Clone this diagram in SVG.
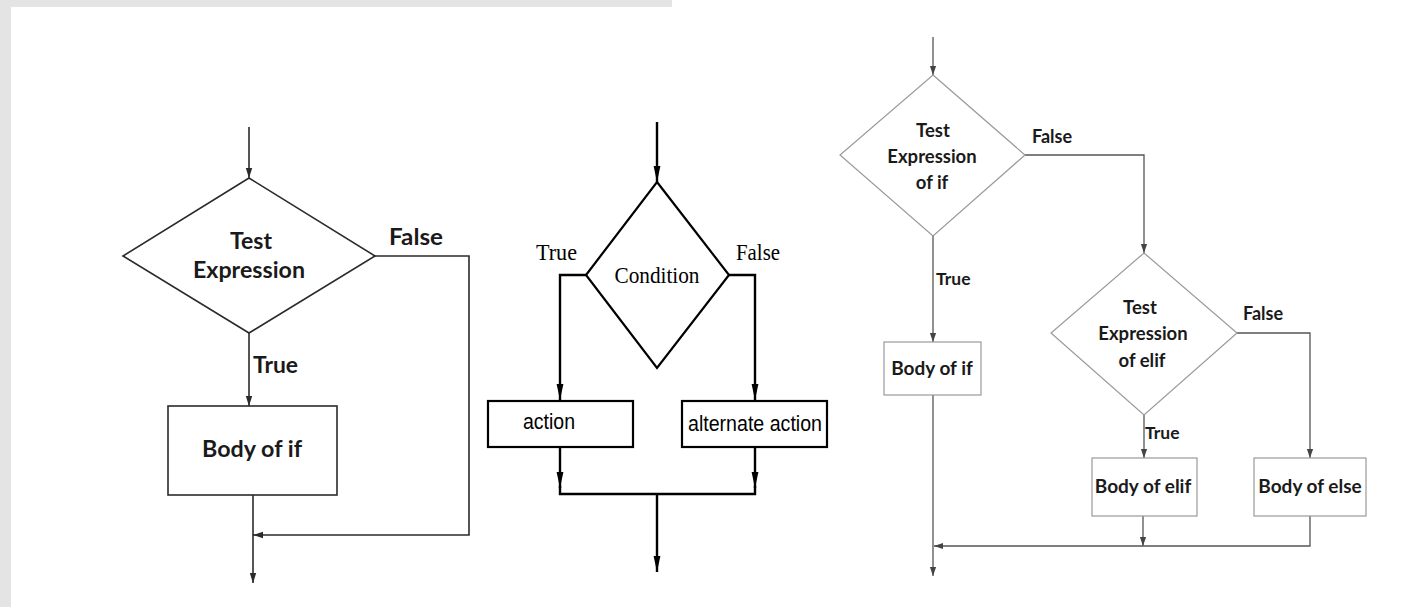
<svg xmlns="http://www.w3.org/2000/svg" width="1403" height="607" viewBox="0 0 1403 607">
  <style>
    .sans { font-family: Lato, "Liberation Sans", sans-serif; font-weight: 700; fill: #1a1a1a; }
    .serif { font-family: "Liberation Serif", serif; fill: #000; }
    .narrow { font-family: "Liberation Sans", sans-serif; fill: #000; }
    .ln-a { fill: none; stroke: #2b2b2b; stroke-width: 1.6; }
    .ln-b { fill: none; stroke: #000; stroke-width: 2.4; }
    .ln-c { fill: none; stroke: #555; stroke-width: 1.3; }
    .shape-a { fill: #fff; stroke: #2b2b2b; stroke-width: 1.6; }
    .shape-b { fill: #fff; stroke: #000; stroke-width: 2.2; }
    .shape-c { fill: #fff; stroke: #9a9a9a; stroke-width: 1.2; }
  </style>
  <defs>
    <marker id="arrA" markerUnits="userSpaceOnUse" markerWidth="10" markerHeight="10" viewBox="0 0 10 10" refX="10" refY="5" orient="auto">
      <path d="M0,1.8 L10,5 L0,8.2 Z" fill="#2b2b2b"/>
    </marker>
    <marker id="arrB" markerUnits="userSpaceOnUse" markerWidth="16" markerHeight="10" viewBox="0 0 16 10" refX="16" refY="5" orient="auto">
      <path d="M0,1.6 L16,5 L0,8.4 Z" fill="#000"/>
    </marker>
    <marker id="arrC" markerUnits="userSpaceOnUse" markerWidth="9" markerHeight="9" viewBox="0 0 9 9" refX="9" refY="4.5" orient="auto">
      <path d="M0,1.4 L9,4.5 L0,7.6 Z" fill="#444"/>
    </marker>
  </defs>

  <!-- page background with the grey frame strips -->
  <rect x="0" y="0" width="1403" height="607" fill="#fff"/>
  <rect x="0" y="0" width="672" height="7" fill="#e4e4e4"/>
  <rect x="0" y="0" width="11" height="607" fill="#e4e4e4"/>

  <!-- ===== simple if ===== -->
  <g id="if-connectors">
    <path class="ln-a" d="M249,127 V178" marker-end="url(#arrA)"/>
    <path class="ln-a" d="M249,333 V406" marker-end="url(#arrA)"/>
    <path class="ln-a" d="M375,256 H469 V535 H253" marker-end="url(#arrA)"/>
    <path class="ln-a" d="M253,495 V583" marker-end="url(#arrA)"/>
    <text class="sans" x="389" y="245" font-size="23" textLength="54" lengthAdjust="spacingAndGlyphs">False</text>
    <text class="sans" x="253" y="373" font-size="23" textLength="45" lengthAdjust="spacingAndGlyphs">True</text>
  </g>
  <g id="if-test">
    <polygon class="shape-a" points="249,178 375,256 249,333 123,256"/>
    <text class="sans" x="251" y="249" font-size="23" text-anchor="middle">Test</text>
    <text class="sans" x="249" y="278" font-size="23" text-anchor="middle" textLength="112" lengthAdjust="spacingAndGlyphs">Expression</text>
  </g>
  <g id="if-body">
    <rect class="shape-a" x="168" y="406" width="169" height="89"/>
    <text class="sans" x="252" y="457" font-size="23" text-anchor="middle" textLength="100" lengthAdjust="spacingAndGlyphs">Body of if</text>
  </g>

  <!-- ===== if / else ===== -->
  <g id="ifelse-connectors">
    <path class="ln-b" d="M657,122 V182" marker-end="url(#arrB)"/>
    <path class="ln-b" d="M586,275 H560 V400" marker-end="url(#arrB)"/>
    <path class="ln-b" d="M729,275 H755 V400" marker-end="url(#arrB)"/>
    <path class="ln-b" d="M560,447 V488" marker-end="url(#arrB)"/>
    <path class="ln-b" d="M755,447 V488" marker-end="url(#arrB)"/>
    <path class="ln-b" d="M560,486 V494 H755 V486"/>
    <path class="ln-b" d="M657,494 V572" marker-end="url(#arrB)"/>
    <text class="serif" x="536" y="260" font-size="23" textLength="41" lengthAdjust="spacingAndGlyphs">True</text>
    <text class="serif" x="736" y="260" font-size="23" textLength="44" lengthAdjust="spacingAndGlyphs">False</text>
  </g>
  <g id="ifelse-condition">
    <polygon class="shape-b" points="657,182 729,275 657,368 586,275"/>
    <text class="serif" x="657" y="283" font-size="24" text-anchor="middle" textLength="85" lengthAdjust="spacingAndGlyphs">Condition</text>
  </g>
  <g id="ifelse-action">
    <rect class="shape-b" x="488" y="401" width="145" height="46"/>
    <text class="narrow" x="549" y="429" font-size="22" text-anchor="middle" textLength="52" lengthAdjust="spacingAndGlyphs">action</text>
  </g>
  <g id="ifelse-alternate">
    <rect class="shape-b" x="682" y="401" width="145" height="46"/>
    <text class="narrow" x="755" y="431" font-size="22" text-anchor="middle" textLength="134" lengthAdjust="spacingAndGlyphs">alternate action</text>
  </g>

  <!-- ===== if / elif / else ===== -->
  <g id="elif-connectors">
    <path class="ln-c" d="M933,37 V75" marker-end="url(#arrC)"/>
    <path class="ln-c" d="M1025,155 H1144 V253" marker-end="url(#arrC)"/>
    <path class="ln-c" d="M933,236 V342" marker-end="url(#arrC)"/>
    <path class="ln-c" d="M1237,333 H1310 V458" marker-end="url(#arrC)"/>
    <path class="ln-c" d="M1144,415 V458" marker-end="url(#arrC)"/>
    <path class="ln-c" d="M1143,516 V546" marker-end="url(#arrC)"/>
    <path class="ln-c" d="M1310,516 V546 H934" marker-end="url(#arrC)"/>
    <path class="ln-c" d="M933,395 V576" marker-end="url(#arrC)"/>
    <text class="sans" x="1032" y="143" font-size="18">False</text>
    <text class="sans" x="1243" y="320" font-size="18">False</text>
    <text class="sans" x="936" y="285" font-size="17.5">True</text>
    <text class="sans" x="1145" y="439" font-size="17.5">True</text>
  </g>
  <g id="elif-test-if">
    <polygon class="shape-c" points="933,75 1025,155 933,236 840,155"/>
    <text class="sans" x="933" y="137" font-size="18.5" text-anchor="middle">Test</text>
    <text class="sans" x="932" y="163" font-size="18.5" text-anchor="middle">Expression</text>
    <text class="sans" x="932" y="189" font-size="18.5" text-anchor="middle">of if</text>
  </g>
  <g id="elif-test-elif">
    <polygon class="shape-c" points="1144,253 1237,333 1144,415 1051,333"/>
    <text class="sans" x="1140" y="314" font-size="18.5" text-anchor="middle">Test</text>
    <text class="sans" x="1143" y="340" font-size="18.5" text-anchor="middle">Expression</text>
    <text class="sans" x="1142" y="367" font-size="18.5" text-anchor="middle">of elif</text>
  </g>
  <g id="elif-body-if">
    <rect class="shape-c" x="884" y="342" width="97" height="53"/>
    <text class="sans" x="932" y="375" font-size="19" text-anchor="middle">Body of if</text>
  </g>
  <g id="elif-body-elif">
    <rect class="shape-c" x="1092" y="458" width="105" height="58"/>
    <text class="sans" x="1143" y="493" font-size="19" text-anchor="middle">Body of elif</text>
  </g>
  <g id="elif-body-else">
    <rect class="shape-c" x="1254" y="458" width="112" height="58"/>
    <text class="sans" x="1310" y="493" font-size="19" text-anchor="middle">Body of else</text>
  </g>
</svg>
